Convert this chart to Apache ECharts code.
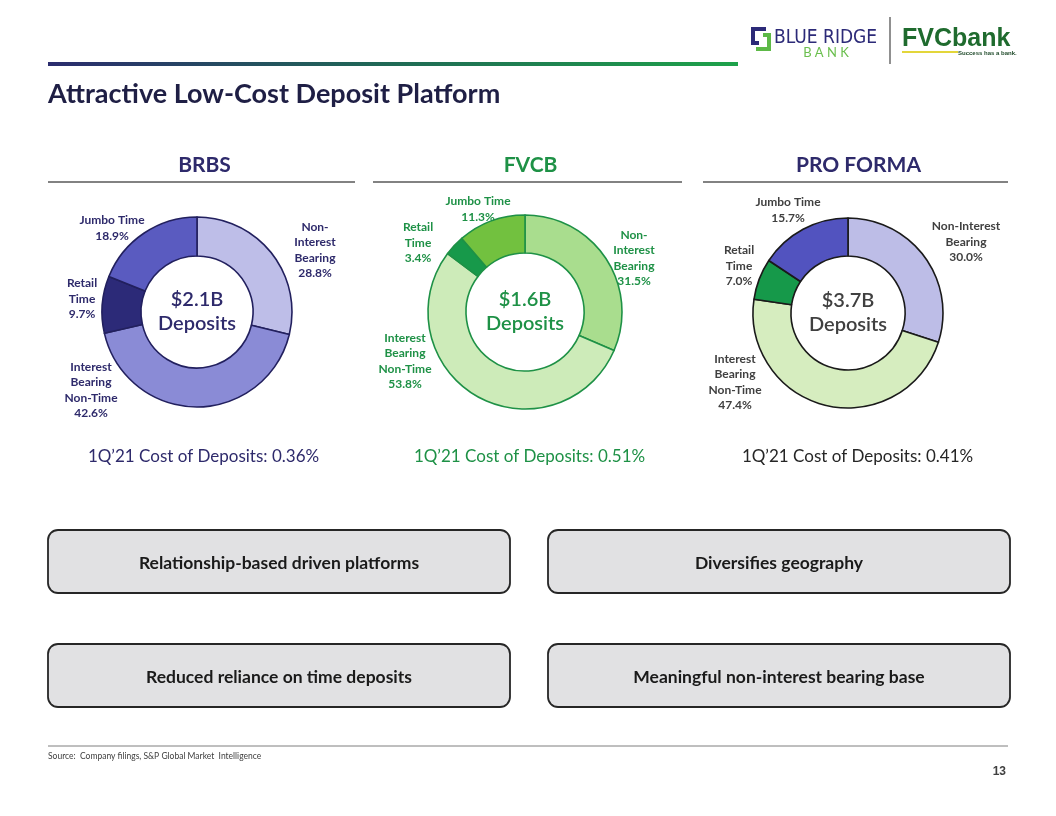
<!DOCTYPE html>
<html>
<head>
<meta charset="utf-8">
<title>Attractive Low-Cost Deposit Platform</title>
<script src="https://cdn.jsdelivr.net/npm/echarts@6/dist/echarts.min.js"></script>
<style>
  html, body { margin: 0; padding: 0; background: #fff; }
  #chart { width: 1056px; height: 816px; }
</style>
</head>
<body>
<div id="chart"></div>
<script>
// deposit mix, clockwise from 12 o'clock
const categories = ['Non-Interest Bearing', 'Interest Bearing Non-Time', 'Retail Time', 'Jumbo Time'];
const brbsShares = [28.8, 42.6, 9.7, 18.9];
const fvcbShares = [31.5, 53.8, 3.4, 11.3];
const proFormaShares = [30.0, 47.4, 7.0, 15.7];

const bankNames = ['BRBS', 'FVCB', 'PRO FORMA'];
const depositTotals = ['$2.1B', '$1.6B', '$3.7B'];
const costOfDeposits = ['0.36%', '0.51%', '0.41%'];

const boxTexts = [
  'Relationship-based driven platforms',
  'Diversifies geography',
  'Reduced reliance on time deposits',
  'Meaningful non-interest bearing base'
];

const FONT = 'Lato, "Noto Sans", sans-serif';
const NAVY = '#2E2A6B';
const GREEN = '#1E9146';
const GREY = '#404040';

// one block per donut: where it sits, how it looks, where its labels go
const panels = [
  {
    shares: brbsShares, cx: 197, cy: 312, radius: [56, 95],
    colors: ['#BEBEE8', '#8A8BD6', '#2C2A78', '#5A5BC0'], border: '#22205E',
    text: NAVY, headColor: NAVY, costColor: NAVY,
    wrap: ['Non-\nInterest\nBearing', 'Interest\nBearing\nNon-Time', 'Retail\nTime', 'Jumbo Time'],
    offsets: [[118, -62], [-106, 78], [-115, -13], [-85, -84]],
    line: [48, 355]
  },
  {
    shares: fvcbShares, cx: 525, cy: 312, radius: [59, 97],
    colors: ['#A9DD8E', '#CDEBB9', '#17994A', '#72C13F'], border: GREEN,
    text: GREEN, headColor: GREEN, costColor: GREEN,
    wrap: ['Non-\nInterest\nBearing', 'Interest\nBearing\nNon-Time', 'Retail\nTime', 'Jumbo Time'],
    offsets: [[109, -54], [-120, 49], [-107, -69], [-47, -103]],
    line: [373, 682]
  },
  {
    shares: proFormaShares, cx: 848, cy: 313, radius: [57, 95],
    colors: ['#BDBDE7', '#D6EDBF', '#16994A', '#5253BF'], border: '#1A1A1A',
    text: GREY, headColor: NAVY, costColor: '#262626',
    wrap: ['Non-Interest\nBearing', 'Interest\nBearing\nNon-Time', 'Retail\nTime', 'Jumbo Time'],
    offsets: [[118, -71], [-113, 69], [-109, -47], [-60, -103]],
    line: [703, 1008]
  }
];

const chart = echarts.init(document.getElementById('chart'));

const series = panels.map(function (p) {
  return {
    type: 'pie',
    center: [p.cx, p.cy],
    radius: p.radius,
    startAngle: 90,
    clockwise: true,
    avoidLabelOverlap: false,
    silent: true,
    itemStyle: { borderColor: p.border, borderWidth: 1.6 },
    label: {
      show: true,
      position: 'outside',
      color: p.text,
      fontFamily: FONT,
      fontSize: 12,
      fontWeight: 'bold',
      lineHeight: 15.5,
      formatter: function (d) {
        return p.wrap[d.dataIndex] + '\n' + d.value.toFixed(1) + '%';
      }
    },
    labelLine: { show: false },
    labelLayout: function (params) {
      const o = p.offsets[params.dataIndex];
      return { x: p.cx + o[0], y: p.cy + o[1], align: 'center', verticalAlign: 'middle' };
    },
    data: p.shares.map(function (v, i) {
      return { name: categories[i], value: v, itemStyle: { color: p.colors[i] } };
    })
  };
});

const graphics = [];

// header rule and title
graphics.push({
  type: 'rect', shape: { x: 48, y: 62, width: 690, height: 4 },
  style: {
    fill: new echarts.graphic.LinearGradient(0, 0, 1, 0, [
      { offset: 0, color: '#2B2C6E' },
      { offset: 0.5, color: '#1F6A55' },
      { offset: 1, color: '#1EA24A' }
    ])
  }
});
graphics.push({
  type: 'text', x: 48, y: 94,
  style: { text: 'Attractive Low-Cost Deposit Platform', fill: '#1F1F45', font: 'bold 27px ' + FONT, verticalAlign: 'middle' }
});

// logos
graphics.push({
  type: 'polyline', shape: { points: [[766, 29], [753, 29], [753, 43], [759, 43]] },
  style: { stroke: '#2C2A78', lineWidth: 4, fill: null }
});
graphics.push({
  type: 'polyline', shape: { points: [[756, 49], [769, 49], [769, 35], [763, 35]] },
  style: { stroke: '#5DB947', lineWidth: 4, fill: null }
});
graphics.push({
  type: 'text', x: 774, y: 38,
  style: { text: 'BLUE RIDGE', fill: '#2C2A78', font: '19px "DejaVu Sans Condensed", ' + FONT, verticalAlign: 'middle' }
});
graphics.push({
  type: 'text', x: 826, y: 53,
  style: { text: 'B A N K', fill: '#6BBF4E', font: '13px ' + FONT, align: 'center', verticalAlign: 'middle' }
});
graphics.push({
  type: 'line', shape: { x1: 890, y1: 17, x2: 890, y2: 64 },
  style: { stroke: '#6B6B6B', lineWidth: 1.5 }
});
graphics.push({
  type: 'text', x: 902, y: 39,
  style: { text: 'FVCbank', fill: '#1F6B2E', font: 'bold 25px "Liberation Sans Narrow", Arial, sans-serif', verticalAlign: 'middle' }
});
graphics.push({
  type: 'rect', shape: { x: 902, y: 51, width: 56, height: 2 },
  style: { fill: '#E3D63A' }
});
graphics.push({
  type: 'text', x: 958, y: 53,
  style: { text: 'Success has a bank.', fill: '#1F4A2A', font: 'bold 6px Arial, sans-serif', verticalAlign: 'middle' }
});

// panel headers, rules, centre totals, cost of deposits
panels.forEach(function (p, i) {
  const mid = (p.line[0] + p.line[1]) / 2;
  graphics.push({
    type: 'text', x: mid + 3, y: 165,
    style: { text: bankNames[i], fill: p.headColor, font: 'bold 21px ' + FONT, align: 'center', verticalAlign: 'middle' }
  });
  graphics.push({
    type: 'line', shape: { x1: p.line[0], y1: 182, x2: p.line[1], y2: 182 },
    style: { stroke: '#595959', lineWidth: 1.5 }
  });
  graphics.push({
    type: 'text', x: p.cx, y: p.cy,
    style: {
      text: depositTotals[i] + '\nDeposits', fill: p.text, font: '600 20px ' + FONT,
      lineHeight: 24, align: 'center', verticalAlign: 'middle'
    }
  });
  graphics.push({
    type: 'text', x: mid + 2, y: 457,
    style: {
      text: '1Q\u201921 Cost of Deposits: ' + costOfDeposits[i], fill: p.costColor,
      font: '17px ' + FONT, align: 'center', verticalAlign: 'middle'
    }
  });
});

// takeaway boxes
const boxSlots = [[48, 530], [548, 530], [48, 644], [548, 644]];
boxTexts.forEach(function (t, i) {
  const s = boxSlots[i];
  graphics.push({
    type: 'rect', shape: { x: s[0], y: s[1], width: 462, height: 63, r: 10 },
    style: { fill: '#E1E1E3', stroke: '#262626', lineWidth: 1.8 }
  });
  graphics.push({
    type: 'text', x: s[0] + 231, y: s[1] + 33,
    style: { text: t, fill: '#1A1A1A', font: 'bold 17.5px ' + FONT, align: 'center', verticalAlign: 'middle' }
  });
});

// footer
graphics.push({
  type: 'line', shape: { x1: 48, y1: 746, x2: 1008, y2: 746 },
  style: { stroke: '#7F7F7F', lineWidth: 1 }
});
graphics.push({
  type: 'text', x: 48, y: 756,
  style: { text: 'Source:  Company filings, S&P Global Market  Intelligence', fill: GREY, font: '8.5px ' + FONT, verticalAlign: 'middle' }
});
graphics.push({
  type: 'text', x: 1006, y: 772,
  style: { text: '13', fill: GREY, font: 'bold 12px Arial, sans-serif', align: 'right', verticalAlign: 'middle' }
});

chart.setOption({
  animation: false,
  backgroundColor: '#ffffff',
  series: series,
  graphic: { elements: graphics }
});
</script>
</body>
</html>
